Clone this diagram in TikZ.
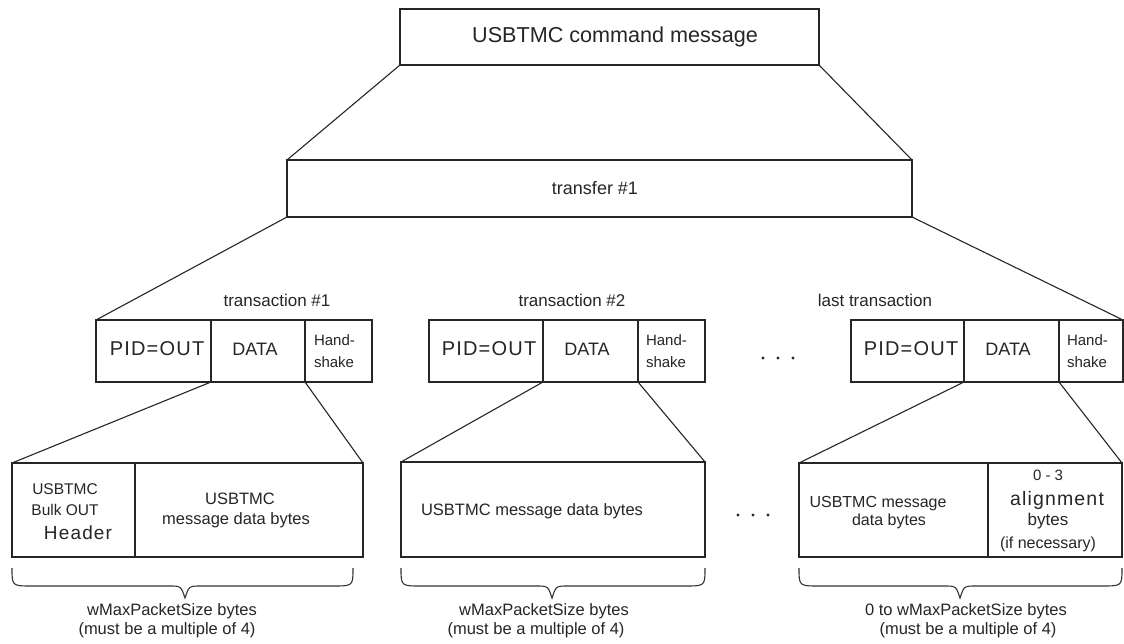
\documentclass[tikz,border=0pt]{standalone}
\usepackage{fontspec}
\setmainfont{Liberation Sans}
\newfontfamily\spacedfont[LetterSpace=6]{Liberation Sans}
\newcommand\myfs[1]{\fontsize{#1}{#1}\selectfont}
\tikzset{
  box/.style={draw=black!85, line width=1.2, anchor=north west, inner sep=0, outer sep=0},
  txt/.style={anchor=base, inner sep=0, outer sep=0, text=black!85},
  link/.style={draw=black!85, line width=1.1},
  brc/.style={draw=black!80, line width=1.1, rounded corners=0},
  dot/.style={fill=black!85}
}
\begin{document}
\begin{tikzpicture}[x=1pt, y=-1pt]
\useasboundingbox[fill=white] (0,0) rectangle (1124,644);

% top level
\node[box, minimum width=419, minimum height=56] (cmd) at (400,9) {};
\node[txt, font=\myfs{21.6}] (cmdt) at (615,43) {USBTMC command message};

\node[box, minimum width=625, minimum height=57] (xfer) at (287,160) {};
\node[txt, font=\myfs{18}] (xfert) at (595,195) {transfer \#1};

% transaction 1
\node[box, minimum width=115, minimum height=62] (pidA) at (96,320) {};
\node[box, minimum width=94, minimum height=62] (datA) at (211,320) {};
\node[box, minimum width=67, minimum height=62] (hsA) at (305,320) {};
% transaction 2
\node[box, minimum width=114, minimum height=62] (pidB) at (429,320) {};
\node[box, minimum width=95, minimum height=62] (datB) at (543,320) {};
\node[box, minimum width=67, minimum height=62] (hsB) at (638,320) {};
% last transaction
\node[box, minimum width=113, minimum height=62] (pidC) at (851,320) {};
\node[box, minimum width=95, minimum height=62] (datC) at (964,320) {};
\node[box, minimum width=64, minimum height=62] (hsC) at (1059,320) {};

\node[txt, font=\myfs{17}] (lA) at (277,306) {transaction \#1};
\node[txt, font=\myfs{17}] (lB) at (572,306) {transaction \#2};
\node[txt, font=\myfs{17}] (lC) at (875,306) {last transaction};

\foreach \n/\px/\dx/\hx in {A/157/255/314, B/489/587/646, C/911/1008/1067}{
  \node[txt, font=\spacedfont\myfs{20}] (pidt\n) at (\px,355) {PID=OUT};
  \node[txt, font=\myfs{18}] (datt\n) at (\dx,355) {DATA};
  \node[txt, anchor=base west, font=\myfs{15}] (hst\n) at (\hx,345) {Hand-};
  \node[txt, anchor=base west, font=\myfs{15}] (hsu\n) at (\hx,367) {shake};
}

% dots between transactions
\foreach \x in {763,778,793} \fill[dot] (\x,358) circle (1.6);

% bottom boxes
\node[box, minimum width=123, minimum height=94] (hdr) at (12,463) {};
\node[box, minimum width=228, minimum height=94] (mdA) at (135,463) {};
\node[box, minimum width=304, minimum height=95] (mdB) at (401,462) {};
\node[box, minimum width=189, minimum height=94] (mdC) at (799,463) {};
\node[box, minimum width=134, minimum height=94] (aln) at (988,463) {};

\node[txt, font=\myfs{15.5}] (h1) at (65,494) {USBTMC};
\node[txt, font=\myfs{15.5}] (h2) at (65,515) {Bulk OUT};
\node[txt, font=\spacedfont\myfs{19}] (h3) at (78,539) {Header};
\node[txt, font=\myfs{16.5}] (m1) at (240,504) {USBTMC};
\node[txt, font=\myfs{16.5}] (m2) at (236,524) {message data bytes};
\node[txt, font=\myfs{16.5}] (m3) at (532,515) {USBTMC message data bytes};
\node[txt, font=\myfs{16}] (m4) at (878,507) {USBTMC message};
\node[txt, font=\myfs{16}] (m5) at (889,525) {data bytes};
\node[txt, font=\myfs{15}] (a1) at (1048,480) {0 - 3};
\node[txt, font=\spacedfont\myfs{19.5}] (a2) at (1057,505) {alignment};
\node[txt, font=\myfs{17}] (a3) at (1048,525) {bytes};
\node[txt, font=\myfs{16}] (a4) at (1048,548) {(if necessary)};

\foreach \x in {738,753,768} \fill[dot] (\x,515) circle (1.6);

% connectors
\draw[link] (cmd.south west) -- (xfer.north west);
\draw[link] (cmd.south east) -- (xfer.north east);
\draw[link] (xfer.south west) -- (pidA.north west);
\draw[link] (xfer.south east) -- (hsC.north east);
\draw[link] (datA.south west) -- (hdr.north west);
\draw[link] (datA.south east) -- (mdA.north east);
\draw[link] (datB.south west) -- (mdB.north west);
\draw[link] (datB.south east) -- (mdB.north east);
\draw[link] (datC.south west) -- (mdC.north west);
\draw[link] (datC.south east) -- (aln.north east);

% braces
\foreach \a/\t/\b in {12/185/353, 401/552/705, 799/960/1122}{
  \draw[brc] (\a,568) .. controls (\a,586) .. (\a+20,586) -- (\t-16,586)
     .. controls (\t-4,586) .. (\t,598) .. controls (\t+4,586) .. (\t+16,586)
     -- (\b-20,586) .. controls (\b,586) .. (\b,568);
}

\node[txt, font=\myfs{16.5}] (bA1) at (172,615) {wMaxPacketSize bytes};
\node[txt, font=\myfs{16.5}] (bA2) at (167,634) {(must be a multiple of 4)};
\node[txt, font=\myfs{16.5}] (bB1) at (544,615) {wMaxPacketSize bytes};
\node[txt, font=\myfs{16.5}] (bB2) at (536,634) {(must be a multiple of 4)};
\node[txt, font=\myfs{16.5}] (bC1) at (966,615) {0 to wMaxPacketSize bytes};
\node[txt, font=\myfs{16.5}] (bC2) at (968,634) {(must be a multiple of 4)};
\end{tikzpicture}
\end{document}
